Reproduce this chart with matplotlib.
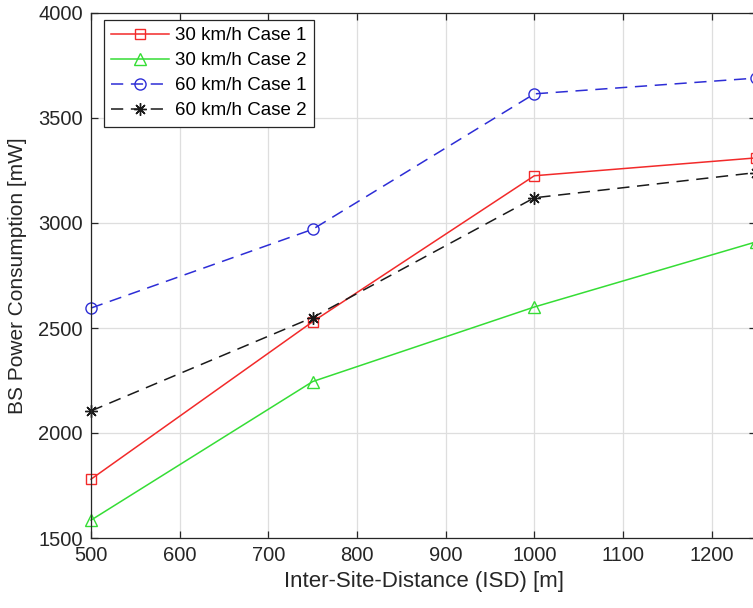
import matplotlib
matplotlib.use("Agg")
import matplotlib.pyplot as plt
import numpy as np

plt.rcParams['font.family'] = ['Liberation Sans', 'DejaVu Sans']

isd = [500, 750, 1000, 1250]
p30_case1 = [1780, 2530, 3225, 3310]
p30_case2 = [1585, 2245, 2600, 2910]
p60_case1 = [2595, 2970, 3615, 3690]
p60_case2 = [2105, 2550, 3120, 3240]

labels = ['30 km/h Case 1', '30 km/h Case 2', '60 km/h Case 1', '60 km/h Case 2']

fig = plt.figure(figsize=(7.53, 6.08), dpi=100)
ax = fig.add_axes([91 / 753, 70 / 608, 665 / 753, 525 / 608])

ax.plot(isd, p30_case1, color='#f22a2a', lw=1.1, marker='s', ms=7,
        mfc='none', mew=1.0, label=labels[0], clip_on=False)
ax.plot(isd, p30_case2, color='#35dd35', lw=1.1, marker='^', ms=8,
        mfc='none', mew=1.0, label=labels[1], clip_on=False)
ax.plot(isd, p60_case1, color='#2d2dd6', lw=1.1, ls=(0, (8, 5)), marker='o',
        ms=8, mfc='none', mew=1.0, label=labels[2], clip_on=False)
ax.plot(isd, p60_case2, color='#1a1a1a', lw=1.1, ls=(0, (8, 5)),
        marker=(8, 2, 0), ms=9, mew=1.0, label=labels[3], clip_on=False)

ax.set_xlim(500, 1250)
ax.set_ylim(1500, 4000)
ax.set_xticks(np.arange(500, 1201, 100))
ax.set_yticks(np.arange(1500, 4001, 500))

ax.grid(True, color='#dedede', lw=0.9)
ax.set_axisbelow(True)
ax.tick_params(direction='in', length=5, width=0.9, top=True, right=True,
               labelsize=14.5, colors='#262626', pad=6)
for s in ax.spines.values():
    s.set_color('#262626')
    s.set_linewidth(0.9)

ax.set_xlabel('Inter-Site-Distance (ISD) [m]', fontsize=16, color='#262626',
              labelpad=4)
ax.set_ylabel('BS Power Consumption [mW]', fontsize=15, color='#262626',
              labelpad=8)

leg = ax.legend(loc='upper left', bbox_to_anchor=(0.019, 0.987), fontsize=13.5,
                handlelength=3.1, handletextpad=0.3, borderpad=0.4,
                labelspacing=0.42, fancybox=False, framealpha=1,
                borderaxespad=0)
leg.get_frame().set_edgecolor('#262626')
leg.get_frame().set_linewidth(0.9)

fig.savefig('out.png', dpi=100)
